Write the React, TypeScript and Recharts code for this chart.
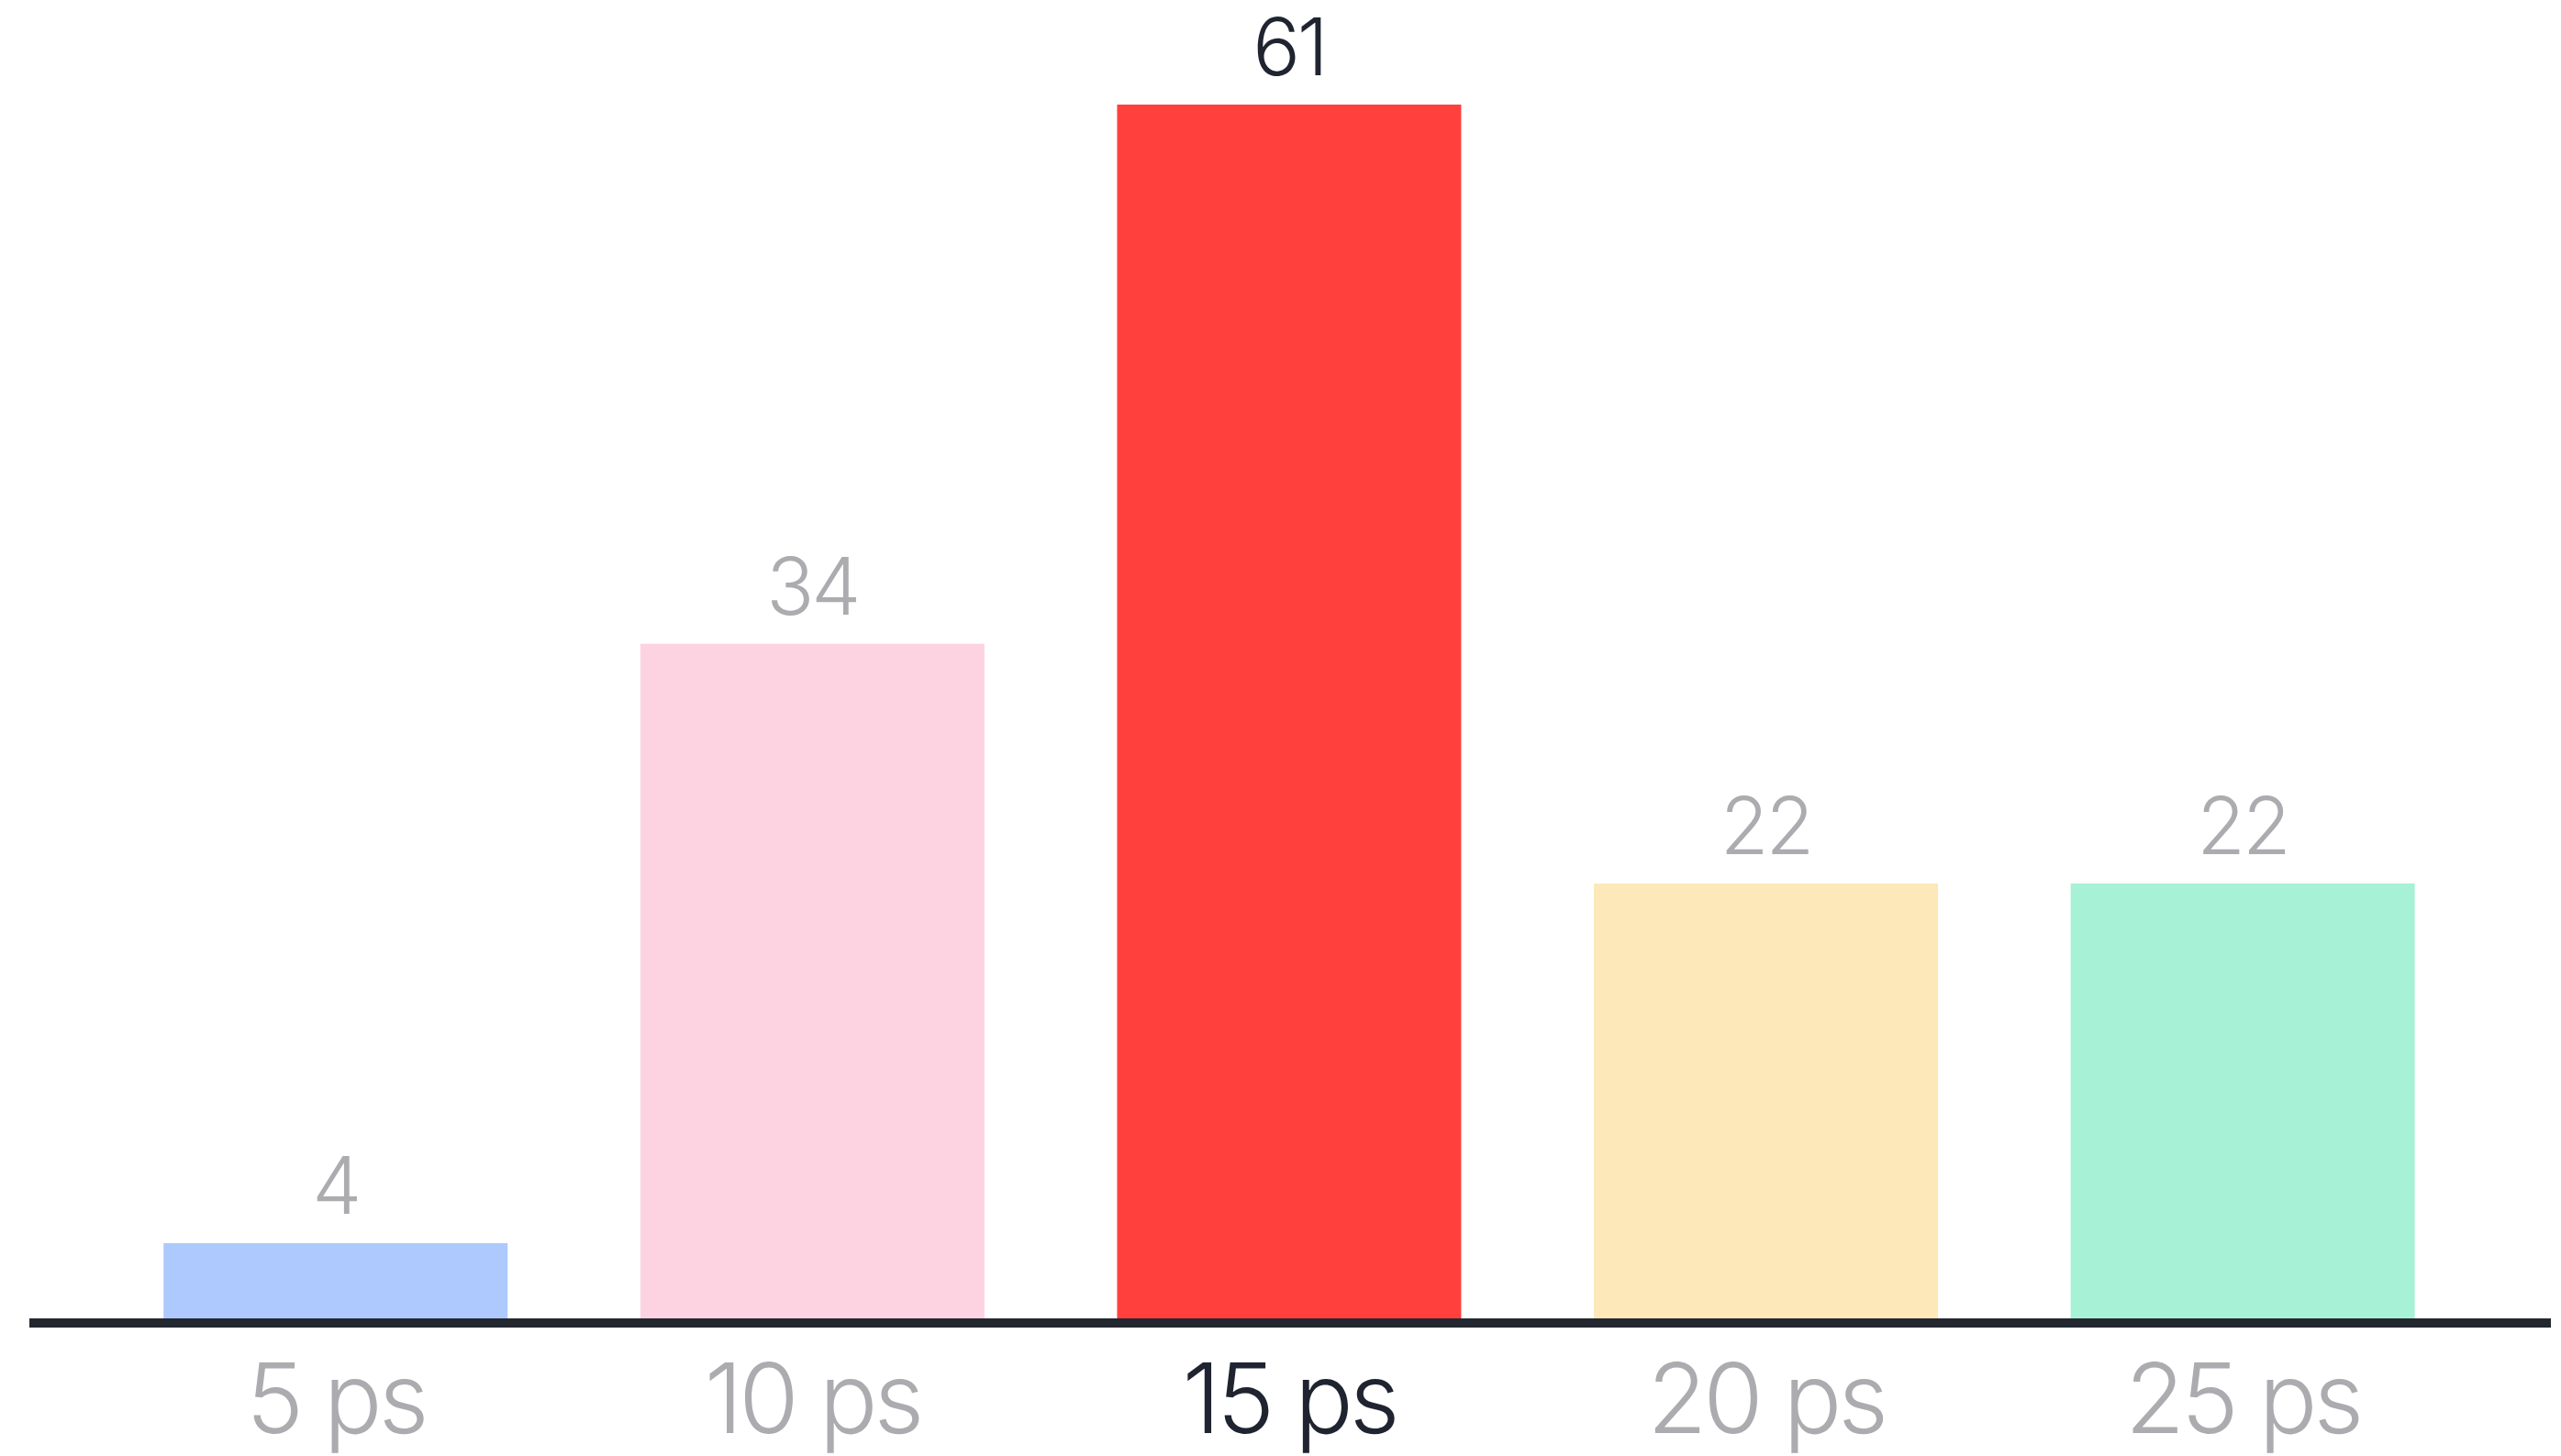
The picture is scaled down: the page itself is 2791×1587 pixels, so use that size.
import { Bar, BarChart, Cell, LabelList, XAxis, YAxis } from 'recharts';

const categories = ['5 ps', '10 ps', '15 ps', '20 ps', '25 ps'];
const counts = [4, 34, 61, 22, 22];
const barColors = ['#adc9fd', '#fdd3e1', '#ff403d', '#fde8b9', '#a7f1d7'];
const highlightIndex = 2;

const GREY = '#acacb0';
const DARK = '#1f2430';
const FONT = 'Inter, "Open Sans", sans-serif';

const data = categories.map((name, i) => ({ name, value: counts[i] }));

function CategoryTick(props: any) {
  const { x, y, payload, index } = props;
  const dark = index === highlightIndex;
  return (
    <text
      x={x}
      y={y}
      dy={112}
      textAnchor="middle"
      fill={dark ? DARK : GREY}
      fontSize={106}
      fontWeight={300}
      fontFamily={FONT}
      letterSpacing={-4}
    >
      {payload.value}
    </text>
  );
}

function ValueLabel(props: any) {
  const { x, y, width, value, index } = props;
  const dark = index === highlightIndex;
  return (
    <text
      x={x + width / 2}
      y={y - 32}
      textAnchor="middle"
      fill={dark ? DARK : GREY}
      fontSize={86}
      fontWeight={300}
      fontFamily={FONT}
      letterSpacing={-3}
    >
      {value}
    </text>
  );
}

export default function App() {
  return (
    <div style={{ position: 'absolute', left: 0, top: 0, background: '#fff' }}>
      <BarChart
        width={2791}
        height={1587}
        data={data}
        margin={{ top: 114, right: 11, left: 32, bottom: 0 }}
        barCategoryGap="13.9%"
      >
        <YAxis hide domain={[0, 61]} />
        <Bar dataKey="value" isAnimationActive={false}>
          {data.map((d, i) => (
            <Cell key={d.name} fill={barColors[i]} />
          ))}
          <LabelList dataKey="value" content={<ValueLabel />} />
        </Bar>
        <XAxis
          dataKey="name"
          height={145}
          padding={{ left: 74, right: 76 }}
          axisLine={{ stroke: '#23272f', strokeWidth: 10 }}
          tickLine={false}
          interval={0}
          tick={<CategoryTick />}
        />
      </BarChart>
    </div>
  );
}
